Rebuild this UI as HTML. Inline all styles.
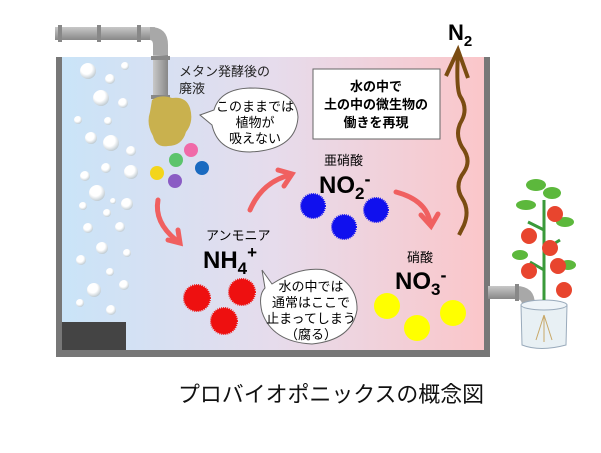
<!DOCTYPE html>
<html><head><meta charset="utf-8"><style>
body{margin:0;background:#fff;width:601px;height:448px;overflow:hidden}
svg text{font-family:"Liberation Sans","Noto Sans CJK JP",sans-serif}
</style></head><body>
<svg width="601" height="448" viewBox="0 0 601 448" xmlns="http://www.w3.org/2000/svg">
<defs>
<linearGradient id="bg" x1="0" x2="1" y1="0" y2="0">
<stop offset="0" stop-color="#c9e4f8"/><stop offset="0.5" stop-color="#e6dcec"/><stop offset="1" stop-color="#fbc6c9"/></linearGradient>
<radialGradient id="bub" cx="0.4" cy="0.35" r="0.7"><stop offset="0.5" stop-color="#fff"/><stop offset="1" stop-color="#b8c4cc"/></radialGradient>
<linearGradient id="pipe" x1="0" y1="0" x2="0" y2="1"><stop offset="0" stop-color="#c8c8c8"/><stop offset="0.5" stop-color="#a8a8a8"/><stop offset="1" stop-color="#888"/></linearGradient>
<linearGradient id="pipev" x1="0" y1="0" x2="1" y2="0"><stop offset="0" stop-color="#c8c8c8"/><stop offset="0.5" stop-color="#a8a8a8"/><stop offset="1" stop-color="#888"/></linearGradient>
</defs>
<rect x="59" y="57" width="428" height="296" fill="url(#bg)"/>
<rect x="56" y="57" width="6" height="300" fill="#777"/>
<rect x="484" y="57" width="6" height="300" fill="#777"/>
<rect x="56" y="350" width="434" height="7" fill="#777"/>
<rect x="62" y="322" width="64" height="28" fill="#444"/>
<rect x="55" y="27" width="100" height="13" fill="url(#pipe)"/>
<path d="M150 27 Q168 27 168 45 L168 98 L153 98 L153 45 Q153 40 150 40Z" fill="#a8a8a8"/>
<rect x="153" y="55" width="15" height="43" fill="url(#pipev)"/>
<rect x="58" y="25" width="4" height="17" fill="#888"/><rect x="97" y="25" width="4" height="17" fill="#888"/><rect x="137" y="25" width="4" height="17" fill="#888"/>
<rect x="151" y="56" width="19" height="4" fill="#888"/><rect x="151" y="95" width="19" height="4" fill="#888"/>
<g fill="url(#bub)">
<circle cx="88" cy="71" r="8"/><circle cx="125" cy="66" r="4"/><circle cx="110" cy="79" r="5"/>
<circle cx="101" cy="98" r="8"/><circle cx="123" cy="103" r="5"/><circle cx="78" cy="120" r="4"/>
<circle cx="108" cy="121" r="4"/><circle cx="91" cy="138" r="6"/><circle cx="111" cy="143" r="8"/><circle cx="131" cy="151" r="5"/>
<circle cx="85" cy="176" r="5"/><circle cx="106" cy="168" r="5"/><circle cx="131" cy="172" r="7"/>
<circle cx="97" cy="193" r="8"/><circle cx="113" cy="201" r="3"/><circle cx="127" cy="204" r="6"/><circle cx="83" cy="206" r="4"/>
<circle cx="107" cy="213" r="4"/><circle cx="88" cy="228" r="5"/><circle cx="120" cy="227" r="5"/>
<circle cx="102" cy="248" r="6"/><circle cx="127" cy="253" r="4"/><circle cx="81" cy="260" r="5"/>
<circle cx="110" cy="272" r="4"/><circle cx="94" cy="290" r="7"/><circle cx="124" cy="285" r="5"/><circle cx="80" cy="303" r="4"/><circle cx="111" cy="310" r="5"/>
</g>
<path d="M152 100 Q160 94 172 98 Q186 96 190 108 Q194 122 186 132 Q182 146 168 146 Q156 148 153 136 Q146 124 150 112Z" fill="#c9b14e"/>
<circle cx="191" cy="150" r="7" fill="#f06aa8"/>
<circle cx="176" cy="160" r="7" fill="#5cc46c"/>
<circle cx="202" cy="168" r="7" fill="#1a6ac0"/>
<circle cx="157" cy="173" r="7" fill="#f3d51c"/>
<circle cx="175" cy="181" r="7" fill="#8a5cc4"/>
<text x="179" y="76" font-size="13" fill="#222">メタン発酵後の</text>
<text x="179" y="93" font-size="13" fill="#222">廃液</text>
<path d="M200 115 L214 110 Q220 89 250 88 Q296 88 298 117 Q296 150 250 152 Q218 152 212 125Z" fill="#fff" stroke="#666"/>
<text x="255" y="111" font-size="13" text-anchor="middle">このままでは</text>
<text x="255" y="127" font-size="13" text-anchor="middle">植物が</text>
<text x="255" y="143" font-size="13" text-anchor="middle">吸えない</text>
<rect x="313" y="69" width="127" height="70" fill="#fff" stroke="#666"/>
<text x="376" y="91" font-size="13" font-weight="bold" text-anchor="middle">水の中で</text>
<text x="376" y="109" font-size="13" font-weight="bold" text-anchor="middle">土の中の微生物の</text>
<text x="376" y="127" font-size="13" font-weight="bold" text-anchor="middle">働きを再現</text>
<text x="448" y="40" font-size="22" font-weight="bold">N<tspan font-size="15" dy="6">2</tspan></text>
<path d="M459 235 L464 225 Q470 210 462 198 Q454 185 464 172 Q472 160 462 147 Q454 133 462 120 Q468 108 460 96 Q456 88 458 52" fill="none" stroke="#7a4c12" stroke-width="4"/>
<path d="M446 76 L458 50 L468 78" fill="none" stroke="#7a4c12" stroke-width="4"/>
<g fill="none" stroke="#f06060" stroke-width="5" stroke-linecap="round">
<path d="M158 200 Q154 222 176 240"/><path d="M168 240 L180 243 L178 230"/>
<path d="M250 210 Q262 182 290 175"/><path d="M278 170 L292 174 L284 186"/>
<path d="M396 192 Q426 200 430 222"/><path d="M421 215 L431 226 L438 214"/>
</g>
<text x="324" y="165" font-size="13">亜硝酸</text>
<text x="319" y="193" font-size="24" font-weight="bold">NO<tspan font-size="17" dy="6">2</tspan><tspan font-size="18" dy="-14">-</tspan></text>
<g fill="#1010ee" stroke="#1010ee" stroke-width="2" stroke-dasharray="1 1">
<circle cx="313" cy="206" r="12"/><circle cx="376" cy="210" r="12"/><circle cx="344" cy="227" r="12"/>
</g>
<text x="206" y="240" font-size="13">アンモニア</text>
<text x="203" y="268" font-size="24" font-weight="bold">NH<tspan font-size="17" dy="6">4</tspan><tspan font-size="17" dy="-16">+</tspan></text>
<g fill="#ee1010" stroke="#ee1010" stroke-width="2" stroke-dasharray="1 1">
<circle cx="197" cy="298" r="13"/><circle cx="242" cy="292" r="13"/><circle cx="224" cy="321" r="13"/>
</g>
<path d="M262 270 L272 284 Q300 266 325 270 Q358 282 357 310 Q352 340 312 344 Q272 342 262 312 Q258 295 265 288Z" fill="#fff" stroke="#666"/>
<text x="311" y="291" font-size="13" text-anchor="middle">水の中では</text>
<text x="311" y="307" font-size="13" text-anchor="middle">通常はここで</text>
<text x="311" y="323" font-size="13" text-anchor="middle">止まってしまう</text>
<text x="311" y="339" font-size="13" text-anchor="middle">（腐る）</text>
<text x="407" y="262" font-size="13">硝酸</text>
<text x="395" y="289" font-size="24" font-weight="bold">NO<tspan font-size="17" dy="6">3</tspan><tspan font-size="18" dy="-14">-</tspan></text>
<g fill="#ffff00">
<circle cx="387" cy="306" r="13"/><circle cx="417" cy="328" r="13"/><circle cx="453" cy="313" r="13"/>
</g>
<rect x="488" y="286" width="30" height="13" fill="url(#pipe)"/>
<path d="M516 286 Q535 286 535 305 L535 312 L522 312 L522 305 Q522 299 516 299Z" fill="#a8a8a8"/>
<rect x="515" y="284" width="4" height="17" fill="#888"/>
<path d="M521 305 L522 345 Q540 352 566 345 L567 305Z" fill="#e8f0f4" stroke="#9ab" />
<ellipse cx="544" cy="305" rx="23" ry="5" fill="#eef4f8" stroke="#9ab"/>
<path d="M544 300 L544 200 M544 250 L560 240 M544 230 L528 222 M544 270 L530 262" stroke="#3a9a3a" stroke-width="3" fill="none"/>
<path d="M544 315 L536 340 M544 315 L552 340 M544 315 L544 342" stroke="#c8a868" stroke-width="1" fill="none"/>
<g fill="#5cb83c">
<ellipse cx="536" cy="185" rx="10" ry="6"/><ellipse cx="552" cy="193" rx="9" ry="6"/><ellipse cx="526" cy="205" rx="10" ry="5"/>
<ellipse cx="565" cy="222" rx="9" ry="5"/><ellipse cx="520" cy="255" rx="8" ry="5"/><ellipse cx="568" cy="265" rx="8" ry="5"/>
</g>
<g fill="#e8452e">
<circle cx="555" cy="214" r="8"/><circle cx="529" cy="236" r="8"/><circle cx="550" cy="248" r="8"/>
<circle cx="529" cy="271" r="8"/><circle cx="558" cy="266" r="8"/><circle cx="564" cy="290" r="8"/>
</g>
<text x="178" y="402" font-size="22" textLength="306" lengthAdjust="spacingAndGlyphs" fill="#111">プロバイオポニックスの概念図</text>
</svg>
</body></html>
